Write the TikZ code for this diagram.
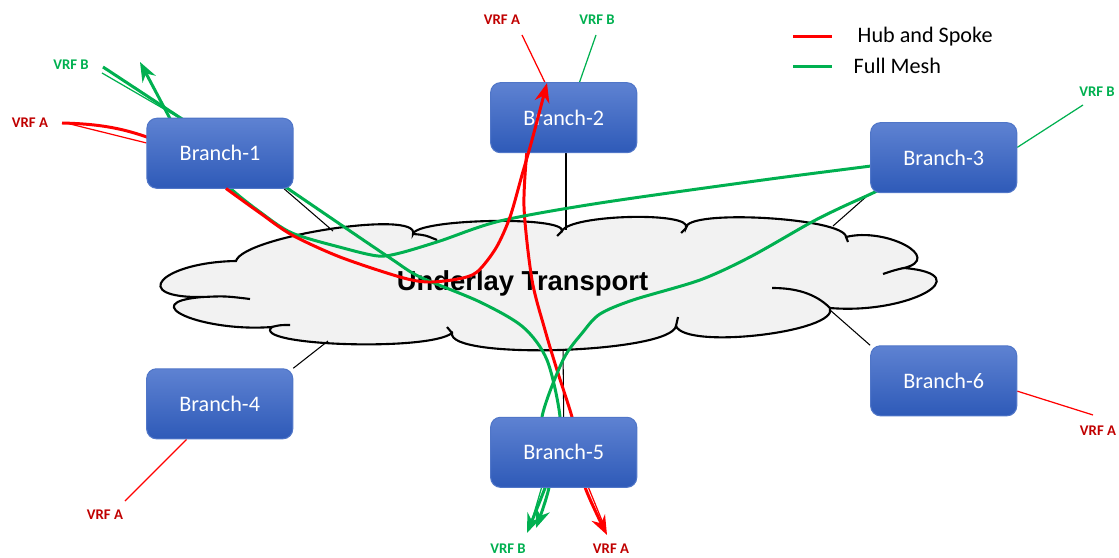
\documentclass[tikz,border=0pt]{standalone}
\usepackage{fontspec}
\setmainfont{Carlito}
\newfontfamily\arialfont{Liberation Sans}
\usetikzlibrary{arrows.meta,calc}
\pgfdeclarelayer{back}
\pgfdeclarelayer{mid}
\pgfdeclarelayer{front}
\pgfsetlayers{back,mid,main,front}
\definecolor{hubred}{RGB}{255,0,0}
\definecolor{meshgreen}{RGB}{0,176,80}
\definecolor{vrfred}{RGB}{192,0,0}
\definecolor{boxtop}{RGB}{94,130,210}
\definecolor{boxbot}{RGB}{46,90,184}
\definecolor{boxline}{RGB}{80,118,200}
\definecolor{cloudfill}{RGB}{242,242,242}

\begin{document}
\begin{tikzpicture}[x=0.01cm,y=-0.01cm,
	branch/.style={rounded corners=2.8pt,top color=boxtop,bottom color=boxbot,draw=boxline,line width=0.3pt,minimum width=1.46cm,minimum height=0.70cm,inner sep=0pt,text=white,font=\fontsize{6.3}{7}\selectfont},
	vrfa/.style={text=vrfred,font=\fontsize{4.2}{5}\selectfont\bfseries,inner sep=0pt},
	vrfb/.style={text=meshgreen,font=\fontsize{4.2}{5}\selectfont\bfseries,inner sep=0pt},
	legendtext/.style={font=\fontsize{6.3}{7}\selectfont,inner sep=0pt},
	hubline/.style={draw=hubred,line width=0.85pt},
	meshline/.style={draw=meshgreen,line width=0.85pt},
	thinhub/.style={draw=hubred,line width=0.35pt},
	thinmesh/.style={draw=meshgreen,line width=0.35pt},
	cloudlink/.style={draw=black,line width=0.3pt},
	arrowed/.style={-{Stealth[length=5.5pt,width=4.2pt]}}]
	\useasboundingbox (0,0) rectangle (1119,558);
	\node[branch] (b1) at (220,153.3) {Branch-1};
	\node[branch] (b2) at (563.7,117.7) {Branch-2};
	\node[branch] (b3) at (943.7,157.7) {Branch-3};
	\node[branch] (b4) at (219.7,403.8) {Branch-4};
	\node[branch] (b5) at (563.7,452.3) {Branch-5};
	\node[branch] (b6) at (943.7,380.8) {Branch-6};
	\node[vrfa] (a1) at (30,122.5) {VRF A};
	\node[vrfb] (v1) at (71,65) {VRF B};
	\node[vrfa] (a2) at (502,20) {VRF A};
	\node[vrfb] (v2) at (597,20) {VRF B};
	\node[vrfb] (v3) at (1097,92) {VRF B};
	\node[vrfa] (a4) at (105,515) {VRF A};
	\node[vrfb] (v5) at (508,548.5) {VRF B};
	\node[vrfa] (a5) at (611,548.5) {VRF A};
	\node[vrfa] (a6) at (1098,431) {VRF A};
	\node[legendtext,anchor=base west] (lhub) at (857,42.7) {Hub and Spoke};
	\node[legendtext,anchor=base west] (lmesh) at (853,74) {Full Mesh};
	\draw[hubline] (793,36.5) -- (832,36.5);
	\draw[meshline] (793,66.7) -- (832,66.7);

	\begin{pgfonlayer}{back}
	\draw[fill=cloudfill,line width=0.6pt] (236,261) .. controls (243.3,236.3) and (420.3,209.3) .. (413,234)
		.. controls (416.3,218.7) and (565.3,215.7) .. (562,231)
		.. controls (570,214.3) and (694,211.3) .. (686,228)
		.. controls (684.7,208.7) and (844.7,217.7) .. (846,237)
		.. controls (886,227) and (944,258) .. (904,268)
		.. controls (981.3,274.7) and (907.3,314.7) .. (830,308)
		.. controls (839.3,332) and (685.3,350) .. (676,326)
		.. controls (670.7,353.3) and (446.7,360.3) .. (452,333)
		.. controls (429.3,351.7) and (249.3,345.7) .. (272,327)
		.. controls (202,332.3) and (133,302.3) .. (203,297)
		.. controls (127.7,298.3) and (160.7,262.3) .. (236,261) -- cycle;
	\foreach \p/\q/\r in {{(413,234)}/{(425,235)}/{(437,240)},{(562,231)}/{(560,233)}/{(557,236)},{(686,228)}/{(684,230)}/{(681,233)},{(846,237)}/{(847,239)}/{(848,242)},{(904,268)}/{(895,270)}/{(883,274)},{(676,326)}/{(677,321)}/{(678,317)},{(452,333)}/{(450,330)}/{(447,327)},{(272,327)}/{(280,325)}/{(290,325)},{(203,297)}/{(225,296)}/{(250,299)}}
		\draw[line width=0.6pt] \p .. controls \q .. \r;
	\draw[line width=0.6pt] (830,308) .. controls (815,293) and (795,288) .. (772,288);
	\coordinate (c1) at (333,231);
	\coordinate (c2) at (566,230);
	\coordinate (c3) at (833,226);
	\coordinate (c4) at (328,341);
	\coordinate (c5) at (563,349);
	\coordinate (c6) at (830,310);
	\draw[cloudlink] (c1) -- (b1.-29);
	\draw[cloudlink] (c2) -- (c2 |- b2.south);
	\draw[cloudlink] (c3) -- (b3.south west);
	\draw[cloudlink] (c4) -- (b4.north east);
	\draw[cloudlink] (c5) -- (b5.north);
	\draw[cloudlink] (c6) -- (b6.north west);
	\node[font=\arialfont\bfseries\fontsize{7.8}{9}\selectfont,inner sep=0pt,anchor=base] (ut) at (522.5,291) {Underlay Transport};
	\end{pgfonlayer}

	\begin{pgfonlayer}{mid}
	\coordinate (a1t) at (66,123);
	\coordinate (v1t) at (102,73);
	\coordinate (a2t) at (522,35);
	\coordinate (v2t) at (596,35);
	\coordinate (v3t) at (1083,105);
	\coordinate (a4t) at (125,501);
	\coordinate (v5t) at (530,527);
	\coordinate (a5t) at (605,528);
	\coordinate (a6t) at (1093,415);
	\draw[thinhub] (a1t) -- (b1.172);
	\draw[thinmesh] (v1t) -- (b1.139);
	\draw[thinhub] (a2t) -- (b2.118);
	\draw[thinmesh] (v2t) -- (b2.66);
	\draw[thinmesh] (v3t) -- (b3.8);
	\draw[thinhub] (a4t) -- (b4.-133);
	\draw[thinmesh] (v5t) -- (b5.-122);
	\draw[thinhub] (a5t) -- (b5.-55);
	\draw[thinhub] (a6t) -- (b6.-8);
	\draw[hubline] (62,123) .. controls (100,124) and (125,128) .. (160,142);
	\draw[hubline,arrowed] plot[smooth] coordinates {(527,150) (524,207) (532,280) (545,330) (557,370) (572,417) (579,450) (585,487) (607,535)};
	\draw[meshline,arrowed] plot[smooth] coordinates {(900,162) (871,166) (763,180) (600,203) (500,221) (440,241) (400,253) (378,256) (343,248) (292,233) (260,212) (230,188) (195,152) (175,128)} -- (140,62);
	\draw[meshline,arrowed] (103,67) -- plot[smooth] coordinates {(287,188) (353,233) (393,260) (420,277) (480,302) (523,327) (547,360) (560,417) (556,455) (545,488) (527,533)};
	\draw[meshline,arrowed] plot[smooth] coordinates {(900,178) (877,191) (840,208) (810,223) (750,257) (700,280) (633,300) (600,314) (583,332) (563,360) (542,417) (547,455) (549,487) (536,528)};
	\end{pgfonlayer}

	\begin{pgfonlayer}{front}
	\draw[hubline,arrowed] plot[smooth] coordinates {(226,188.5) (260,213) (292,235) (340,257) (400,277) (428,282) (458,279) (477,272) (496,248) (510,217) (522,175) (532,140) (547,83)};
	\end{pgfonlayer}
\end{tikzpicture}
\end{document}
